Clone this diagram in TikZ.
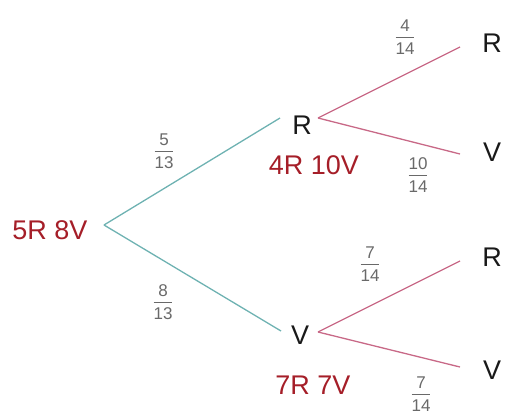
\documentclass[tikz,border=0pt]{standalone}
\usepackage{fontspec}
\setmainfont{Liberation Sans}
\definecolor{tealline}{RGB}{110,178,178}
\definecolor{pinkline}{RGB}{200,105,135}
\definecolor{darkred}{RGB}{165,30,40}
\definecolor{fracgray}{RGB}{105,105,105}
\definecolor{letter}{RGB}{25,25,25}
\newcommand\myfrac[2]{\begin{tabular}{@{}c@{}}#1\\[0pt]\hline\rule{0pt}{17pt}#2\end{tabular}}
\tikzset{
  branch1/.style={draw=tealline,line width=1.3pt},
  branch2/.style={draw=pinkline,line width=1.3pt},
  count/.style={text=darkred,font=\fontsize{27}{30}\selectfont,inner sep=0pt},
  outcome/.style={text=letter,font=\fontsize{27}{30}\selectfont,inner sep=0pt},
  prob/.style={text=fracgray,font=\fontsize{17}{20}\selectfont,inner sep=0pt},
}
\begin{document}
\begin{tikzpicture}[x=1pt,y=-1pt]
\useasboundingbox (0,0) rectangle (505,415);
% root
\node[count] (root) at (50,230) {5R 8V};
\coordinate (s0) at (104,225);
% first level
\coordinate (e1) at (280,118);
\coordinate (e2) at (281,331);
\node[outcome] (r1) at (302,125) {R};
\node[outcome] (v1) at (300,335) {V};
\node[count] (c1) at (314,165) {4R 10V};
\node[count] (c2) at (313,385) {7R 7V};
\draw[branch1] (s0) -- (e1);
\draw[branch1] (s0) -- (e2);
\node[prob] (p1) at (164,153) {\myfrac{5}{13}};
\node[prob] (p2) at (163,304) {\myfrac{8}{13}};
% second level, upper
\coordinate (s1) at (318,118);
\coordinate (e11) at (460,47);
\coordinate (e12) at (460,154);
\draw[branch2] (s1) -- (e11);
\draw[branch2] (s1) -- (e12);
\node[outcome] (rr) at (492,43) {R};
\node[outcome] (rv) at (492,152) {V};
\node[prob] (p11) at (405,39) {\myfrac{4}{14}};
\node[prob] (p12) at (418,177) {\myfrac{10}{14}};
% second level, lower
\coordinate (s2) at (318,332);
\coordinate (e21) at (460,261);
\coordinate (e22) at (460,367);
\draw[branch2] (s2) -- (e21);
\draw[branch2] (s2) -- (e22);
\node[outcome] (vr) at (492,257) {R};
\node[outcome] (vv) at (492,370) {V};
\node[prob] (p21) at (370,266) {\myfrac{7}{14}};
\node[prob] (p22) at (421,396) {\myfrac{7}{14}};
\end{tikzpicture}
\end{document}
